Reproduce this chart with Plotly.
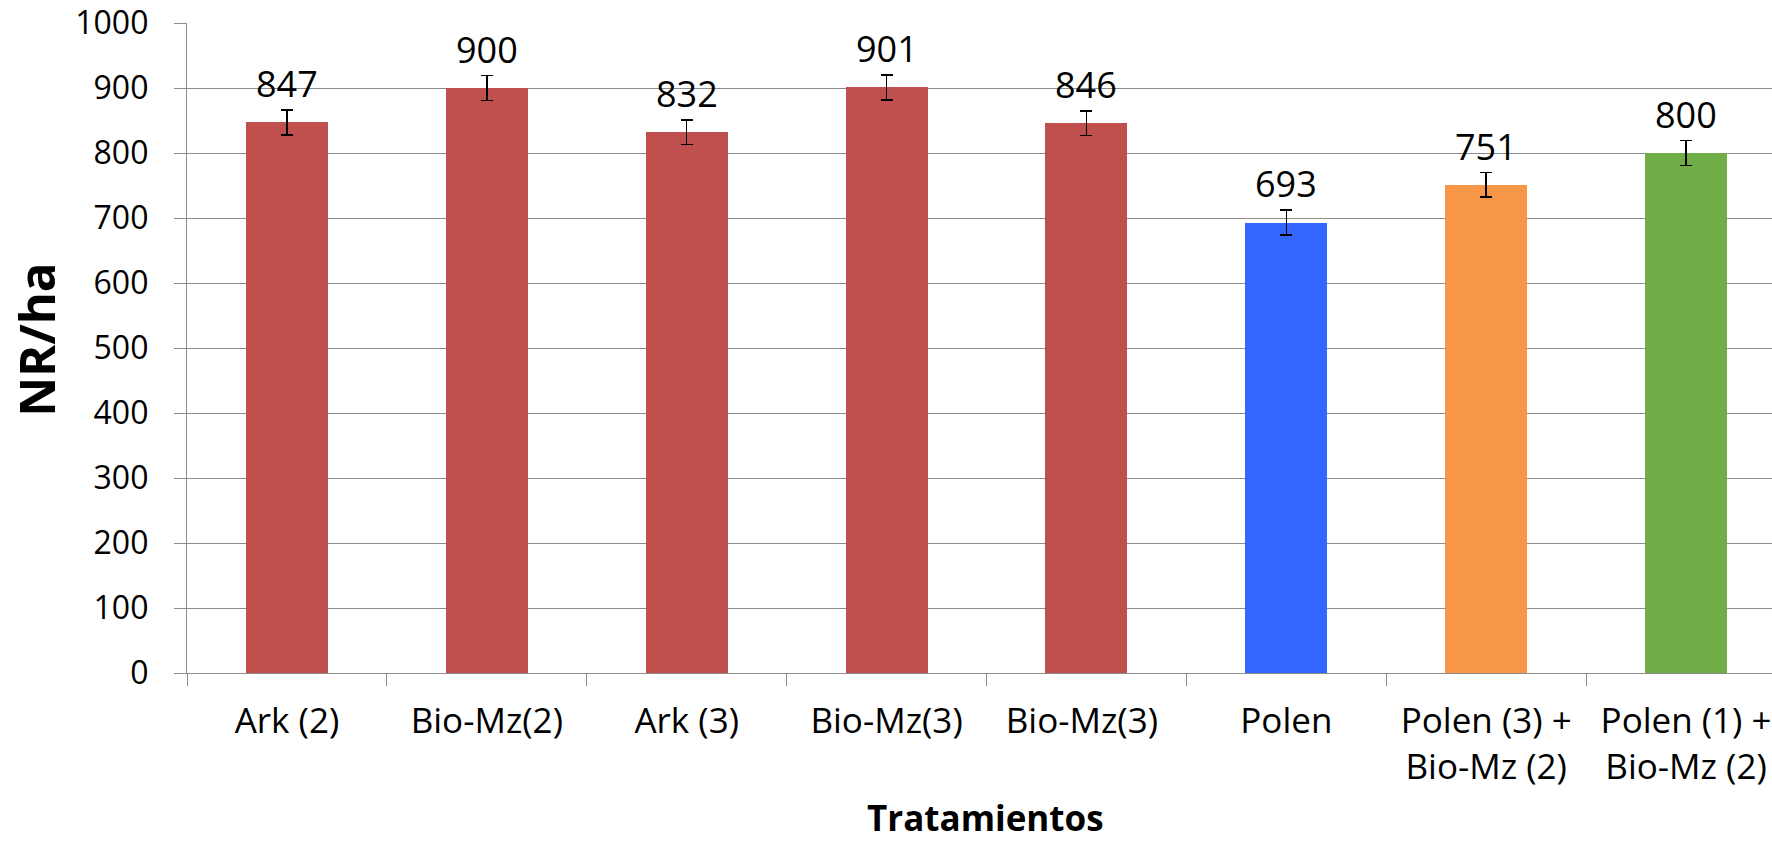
import plotly.graph_objects as go

categories = ["Ark (2)", "Bio-Mz(2)", "Ark (3)", "Bio-Mz(3)", "Bio-Mz(3) ",
              "Polen", "Polen (3) +<br>Bio-Mz (2)", "Polen (1) +<br>Bio-Mz (2)"]
values = [847, 900, 832, 901, 846, 693, 751, 800]
errors = [19, 19, 19, 19, 19, 19, 19, 19]
colors = ["#C0504D", "#C0504D", "#C0504D", "#C0504D", "#C0504D",
          "#3366FF", "#F79646", "#70AD47"]
y_ticks = [0, 100, 200, 300, 400, 500, 600, 700, 800, 900, 1000]

FONT = "Open Sans, Liberation Sans, sans-serif"
GRID = "#8C8C8C"

fig = go.Figure()
fig.add_trace(go.Bar(
    x=categories, y=values,
    marker=dict(color=colors, line=dict(width=0)),
    width=0.41,
    error_y=dict(type="data", array=errors, visible=True,
                 color="black", thickness=1.6, width=6),
    hoverinfo="skip",
))

for c, v, e in zip(categories, values, errors):
    fig.add_annotation(x=c, y=v + e, text=str(v), showarrow=False,
                       yanchor="bottom", yshift=0,
                       font=dict(family=FONT, size=36, color="black"))

# axis titles
fig.add_annotation(text="<b>NR/ha</b>", xref="paper", yref="paper",
                   x=-0.0949, y=0.512, xanchor="center", yanchor="middle",
                   textangle=-90, showarrow=False,
                   font=dict(family=FONT, size=49, color="black"))
fig.add_annotation(text="<b>Tratamientos</b>", xref="paper", yref="paper",
                   x=0.5035, y=-0.2595, xanchor="center", yanchor="bottom",
                   showarrow=False, borderpad=0,
                   font=dict(family=FONT, size=35, color="black"))

fig.update_layout(
    width=1772, height=842,
    margin=dict(l=187, r=0, t=23, b=169),
    paper_bgcolor="white", plot_bgcolor="white",
    showlegend=False,
    font=dict(family=FONT, color="black"),
    bargap=0,
)

fig.update_xaxes(
    type="category",
    categoryorder="array", categoryarray=categories,
    range=[-0.5, 7.43],
    tickson="boundaries",
    ticks="outside", ticklen=12, tickcolor=GRID, tickwidth=1.3,
    showline=True, linecolor=GRID, linewidth=1.3,
    showgrid=False, zeroline=False,
    tickfont=dict(family=FONT, size=35, color="black"),
    ticklabelstandoff=17,
)

fig.update_yaxes(
    range=[0, 1000],
    tickmode="array", tickvals=y_ticks,
    ticks="outside", ticklen=12, tickcolor=GRID, tickwidth=1.3,
    showline=True, linecolor=GRID, linewidth=1.3,
    showgrid=True, gridcolor=GRID, gridwidth=1.3,
    zeroline=False,
    tickfont=dict(family=FONT, size=32, color="black"),
    ticklabelstandoff=19,
)

fig.write_html("out.html", config={"displayModeBar": False},
               post_script="document.body.style.margin='0';")
